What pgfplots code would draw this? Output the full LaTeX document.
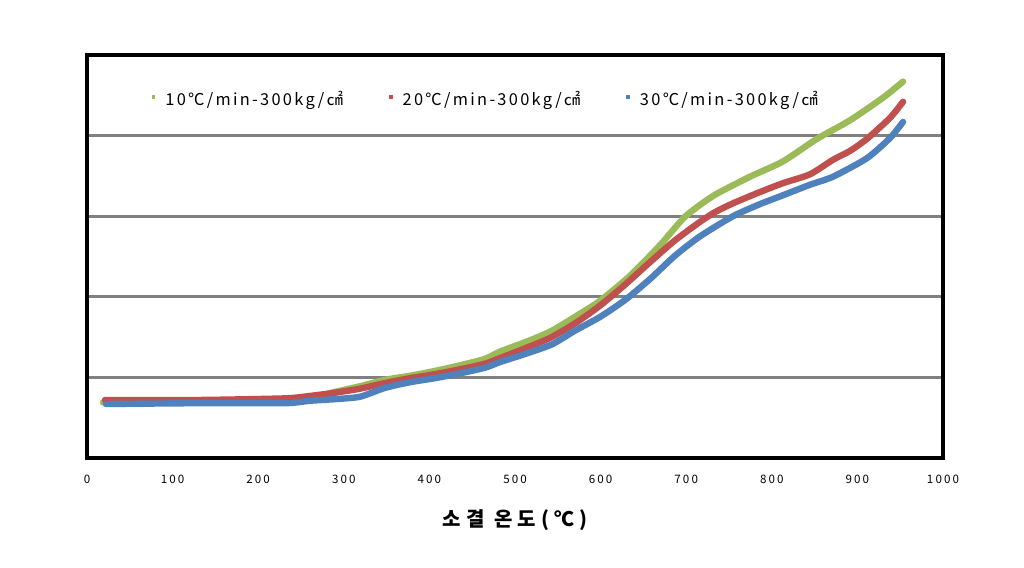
\documentclass[border=0pt]{standalone}
\usepackage{fontspec}
\setmainfont{Noto Sans CJK KR}
\newfontfamily\tickfont[LetterSpace=18]{Noto Sans CJK KR}
\newfontfamily\legfont[LetterSpace=14]{Noto Sans CJK KR}
\newfontfamily\labfont[LetterSpace=25]{Noto Sans CJK KR}
\usepackage{pgfplots}
\pgfplotsset{compat=1.18}
\definecolor{xlgreen}{HTML}{9BBB59}
\definecolor{xlred}{HTML}{C0504D}
\definecolor{xlblue}{HTML}{4F81BD}

\pgfplotstableread{
x y
18.7 0.69
73.6 0.69
132.0 0.69
190.4 0.69
237.1 0.71
260.5 0.74
289.7 0.82
318.9 0.89
348.1 0.97
377.3 1.02
406.5 1.08
435.7 1.15
465.0 1.23
482.5 1.32
517.5 1.46
543.2 1.58
575.9 1.79
599.3 1.95
634.3 2.26
669.4 2.64
696.3 2.97
716.1 3.14
736.0 3.28
774.5 3.49
813.1 3.68
852.8 3.96
891.4 4.19
929.9 4.47
953.3 4.67
}\tengreen

\pgfplotstableread{
x y
21.0 0.72
132.0 0.72
231.3 0.74
260.5 0.77
289.7 0.81
318.9 0.86
348.1 0.93
377.3 0.99
406.5 1.04
435.7 1.10
465.0 1.17
482.5 1.24
511.7 1.36
540.9 1.49
570.1 1.67
599.3 1.89
628.5 2.15
657.7 2.43
686.9 2.70
716.1 2.93
733.6 3.05
754.7 3.16
786.2 3.30
813.1 3.41
844.6 3.52
871.5 3.70
891.4 3.81
911.2 3.96
938.1 4.22
953.3 4.42
}\twentyred

\pgfplotstableread{
x y
22.2 0.67
132.0 0.68
231.3 0.68
260.5 0.71
289.7 0.73
318.9 0.76
348.1 0.87
377.3 0.94
406.5 0.99
435.7 1.05
465.0 1.12
482.5 1.19
511.7 1.29
543.2 1.41
570.1 1.58
599.3 1.75
628.5 1.96
657.7 2.22
686.9 2.51
716.1 2.75
754.7 3.00
786.2 3.15
813.1 3.26
844.6 3.39
871.5 3.49
911.2 3.72
938.1 3.97
953.3 4.17
}\thirtyblue

\begin{document}
\begin{tikzpicture}
\path[use as bounding box] (-43.5pt,-55pt) rectangle (468.5pt,229pt);
\begin{axis}[
    scale only axis,
    width=428pt,
    height=201.5pt,
    xmin=0, xmax=1000,
    ymin=0, ymax=5,
    xtick={0,100,...,1000},
    ytick={1,2,3,4},
    yticklabels={},
    major tick length=0pt,
    ymajorgrids=true,
    grid style={line width=1.5pt, color=black!50},
    axis line style={line width=1.6pt},
    /pgf/number format/assume math mode=true,
    /pgf/number format/1000 sep={},
    xticklabel style={font=\tickfont\fontsize{5.8}{6}\selectfont, yshift=-5pt},
    xlabel={\labfont\bfseries\fontsize{10}{11}\selectfont 소결 온도(℃)},
    xlabel style={yshift=-6pt},
    legend columns=3,
    legend style={draw=none, fill=none, at={(0.467,0.888)}, anchor=center,
        font=\legfont\fontsize{8.2}{9}\selectfont,
        /tikz/every odd column/.append style={column sep=3pt},
        /tikz/every even column/.append style={column sep=21pt}},
    legend image code/.code={\fill[#1, draw=none] (0pt,0.5pt) rectangle (1.8pt,2.5pt);},
    every axis plot/.append style={line width=3.2pt, line join=round, line cap=round, no marks, smooth, tension=0.4},
]
\addplot[color=xlgreen] table {\tengreen};
\addlegendentry{10℃/min-300kg/㎠}
\addplot[color=xlred] table {\twentyred};
\addlegendentry{20℃/min-300kg/㎠}
\addplot[color=xlblue] table {\thirtyblue};
\addlegendentry{30℃/min-300kg/㎠}
\end{axis}
\end{tikzpicture}
\end{document}
